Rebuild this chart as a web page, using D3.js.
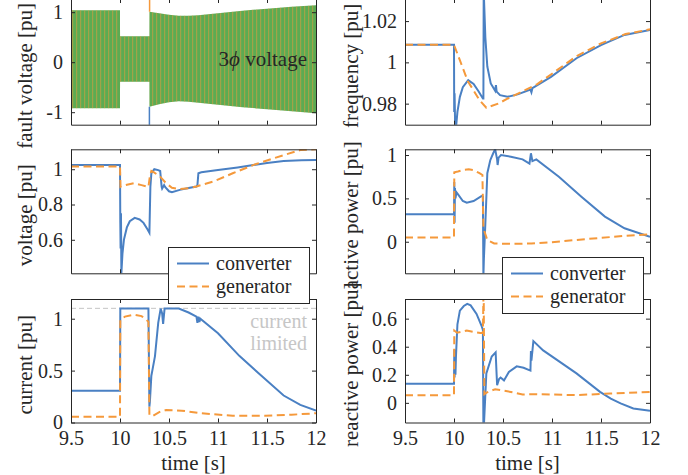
<!DOCTYPE html>
<html>
<head>
<meta charset="utf-8">
<script src="https://cdn.jsdelivr.net/npm/d3@7"></script>
<style>
  body { margin: 0; background: #fff; }
</style>
</head>
<body>
<script>
// ---- data ----
var timeTicks = [9.5, 10, 10.5, 11, 11.5, 12];
var timeTickLabels = ['9.5', '10', '10.5', '11', '11.5', '12'];

// 3 phase fault voltage, drawn as its envelope (pu)
var faultTime  = [9.5, 10.0, 10.0005, 10.3, 10.3005, 10.4, 10.5, 10.6, 10.7, 10.8, 11.0, 11.25, 11.5, 11.75, 12.0];
var faultUpper = [1.04, 1.04, 0.52, 0.52, 1.01, 0.98, 0.95, 0.93, 0.93, 0.94, 0.98, 1.03, 1.07, 1.11, 1.14];
var faultLower = [-0.92, -0.92, -0.39, -0.39, -0.89, -0.84, -0.8, -0.78, -0.79, -0.81, -0.85, -0.9, -0.94, -0.98, -1.02];
// switching spikes at fault clearing [t, from, to]
var faultSpikeA = [10.3, -0.89, -1.4];
var faultSpikeB = [10.302, 1.01, 1.4];

var convFreq = [[9.5,1.0085],[10.0,1.0085],[10.002,0.976],[10.006,0.985],[10.012,0.968],[10.02,0.968],[10.035,0.976],
  [10.06,0.9833],[10.09,0.988],[10.145,0.9914],[10.2,0.9895],[10.25,0.986],[10.295,0.9825],[10.3,0.9825],[10.303,1.035],
  [10.32,1.012],[10.34,0.998],[10.375,0.9898],[10.42,0.9862],[10.428,0.989],[10.435,0.9858],[10.47,0.9841],[10.545,0.9833],
  [10.65,0.9845],[10.78,0.9868],[10.79,0.9855],[10.8,0.9875],[10.99,0.993],[11.25,1.002],[11.5,1.0084],[11.74,1.0133],[12,1.0157]];
var genFreq = [[9.5,1.0085],[10.0,1.0085],[10.14,0.991],[10.26,0.9817],[10.33,0.978],[10.45,0.98],[10.55,0.9825],
  [10.7,0.986],[10.85,0.9895],[11.0,0.9945],[11.25,1.003],[11.5,1.0092],[11.75,1.0137],[12,1.016]];

var convVolt = [[9.5,1.024],[10.0,1.024],[10.003,0.7],[10.006,0.55],[10.01,0.75],[10.014,0.41],[10.025,0.52],[10.04,0.6],
  [10.07,0.67],[10.1,0.705],[10.15,0.724],[10.2,0.715],[10.24,0.696],[10.28,0.66],[10.3,0.64],[10.31,0.9],[10.32,0.977],
  [10.35,1.0],[10.39,0.995],[10.41,0.99],[10.425,0.9],[10.43,0.89],[10.45,0.91],[10.46,0.9],[10.5,0.875],[10.53,0.87],
  [10.61,0.883],[10.7,0.893],[10.78,0.902],[10.79,0.91],[10.8,0.977],[10.83,0.983],[11.0,0.995],[11.2,1.01],[11.36,1.024],
  [11.5,1.035],[11.67,1.047],[11.85,1.051],[12,1.052]];
var genVolt = [[9.5,1.015],[10.0,1.015],[10.005,0.9],[10.02,0.905],[10.14,0.921],[10.22,0.91],[10.29,0.899],[10.305,0.96],
  [10.32,0.99],[10.34,0.985],[10.41,0.958],[10.47,0.921],[10.53,0.895],[10.61,0.887],[10.7,0.892],[10.78,0.902],[10.95,0.93],
  [11.15,0.977],[11.39,1.03],[11.67,1.08],[11.84,1.109],[12,1.113]];

var convP = [[9.5,0.316],[10.0,0.316],[10.003,0.69],[10.006,0.22],[10.01,0.62],[10.015,0.5],[10.025,0.57],[10.045,0.54],
  [10.09,0.47],[10.13,0.45],[10.2,0.47],[10.28,0.527],[10.295,0.52],[10.3,-0.4],[10.305,-0.2],[10.32,0.21],[10.34,0.79],
  [10.37,0.94],[10.4,1.02],[10.42,1.066],[10.44,0.95],[10.445,0.885],[10.455,0.97],[10.48,1.0],[10.58,0.98],[10.7,0.95],
  [10.77,0.9],[10.785,1.02],[10.8,0.93],[10.84,0.95],[11.07,0.75],[11.3,0.52],[11.54,0.29],[11.74,0.155],[12,0.058]];
var genP = [[9.5,0.05],[10.0,0.05],[10.003,0.8],[10.04,0.81],[10.1,0.83],[10.15,0.835],[10.2,0.825],[10.26,0.79],
  [10.29,0.77],[10.3,0.155],[10.34,0.02],[10.41,-0.02],[10.6,-0.025],[10.79,-0.02],[11.0,-0.005],[11.25,0.02],
  [11.5,0.045],[11.75,0.068],[12,0.085]];

var convI = [[9.5,0.305],[10.0,0.305],[10.003,1.098],[10.29,1.098],[10.3,0.153],[10.305,0.2],[10.32,0.45],[10.357,0.64],
  [10.39,0.96],[10.415,1.098],[10.43,1.05],[10.44,0.95],[10.455,1.098],[10.6,1.098],[10.7,1.06],[10.78,1.02],[10.79,0.96],
  [10.8,1.02],[10.81,0.97],[10.82,1.0],[11.0,0.86],[11.22,0.64],[11.42,0.47],[11.67,0.26],[11.84,0.17],[12,0.114]];
var genI = [[9.5,0.056],[10.0,0.056],[10.003,0.99],[10.05,1.02],[10.14,1.04],[10.22,1.025],[10.27,0.99],[10.29,0.97],
  [10.3,0.073],[10.33,0.06],[10.4,0.1],[10.47,0.12],[10.63,0.114],[10.83,0.089],[11.15,0.065],[11.48,0.065],
  [11.75,0.075],[12,0.089]];
var currentLimit = 1.1;

var convQ = [[9.5,0.137],[10.0,0.137],[10.003,0.38],[10.006,0.18],[10.01,0.36],[10.015,0.2],[10.02,0.33],[10.035,0.56],
  [10.06,0.657],[10.1,0.69],[10.135,0.705],[10.17,0.695],[10.23,0.634],[10.28,0.551],[10.295,0.52],[10.3,-0.2],
  [10.306,-0.15],[10.33,0.21],[10.385,0.33],[10.425,0.36],[10.435,0.2],[10.44,0.125],[10.46,0.17],[10.475,0.18],
  [10.51,0.16],[10.56,0.22],[10.64,0.26],[10.71,0.25],[10.78,0.23],[10.785,0.37],[10.79,0.3],[10.81,0.44],[10.91,0.374],
  [11.25,0.21],[11.49,0.078],[11.6,0.03],[11.7,-0.004],[11.83,-0.04],[12,-0.057]];
var genQ = [[9.5,0.055],[10.0,0.055],[10.003,0.515],[10.03,0.5],[10.13,0.515],[10.2,0.505],[10.27,0.497],[10.295,0.497],
  [10.3,0.76],[10.303,0.76],[10.31,0.062],[10.35,0.08],[10.42,0.097],[10.5,0.088],[10.58,0.078],[10.7,0.06],[10.84,0.062],
  [11.25,0.055],[11.6,0.067],[12,0.078]];

var legendNames = ['converter', 'generator'];

// ---- layout ----
var blue = '#4a80c3', orange = '#f5993b', green = '#5cab52', ink = '#262626';
var serif = "'Liberation Serif'";
var colX = [71, 405], colW = 245;
var rowY = [[-1, 124.7], [149.3, 273.3], [299, 422.5]];

var svg = d3.select('body').append('svg').attr('width', 688).attr('height', 475);
var defs = svg.append('defs');

var pat = defs.append('pattern').attr('id', 'stripes').attr('patternUnits', 'userSpaceOnUse')
  .attr('width', 4).attr('height', 10);
pat.append('rect').attr('x', 0).attr('y', 0).attr('width', 1.2).attr('height', 10)
  .attr('fill', orange).attr('opacity', 0.45);

var line = function(x, y) {
  return d3.line().x(function(d) { return x(d[0]); }).y(function(d) { return y(d[1]); });
};

var drawPair = function(g, x, y, a, b) {
  g.append('path').datum(a).attr('d', line(x, y)).attr('fill', 'none')
    .attr('stroke', blue).attr('stroke-width', 2);
  g.append('path').datum(b).attr('d', line(x, y)).attr('fill', 'none')
    .attr('stroke', orange).attr('stroke-width', 2).attr('stroke-dasharray', '8,4.5');
};

// font set on each text element (letter-spacing breaks the font here, so none)
var label = function(sel, size) {
  return sel.style('font-family', serif).attr('font-size', size);
};

var panels = [
  { col: 0, row: 0, domain: [-1.25, 1.264], ticks: [-1, 0, 1], label: 'fault voltage [pu]', labelShift: 14,
    draw: function(g, x, y) {
      var band = d3.area()
        .x(function(d, i) { return x(faultTime[i]); })
        .y0(function(d, i) { return y(faultLower[i]); })
        .y1(function(d) { return y(d); });
      g.append('path').datum(faultUpper).attr('d', band).attr('fill', green);
      g.append('path').datum(faultUpper).attr('d', band).attr('fill', 'url(#stripes)');
      g.append('line').attr('x1', x(faultSpikeA[0])).attr('x2', x(faultSpikeA[0]))
        .attr('y1', y(faultSpikeA[1])).attr('y2', y(faultSpikeA[2])).attr('stroke', blue).attr('stroke-width', 1.5);
      g.append('line').attr('x1', x(faultSpikeB[0])).attr('x2', x(faultSpikeB[0]))
        .attr('y1', y(faultSpikeB[1])).attr('y2', y(faultSpikeB[2])).attr('stroke', orange).attr('stroke-width', 1.5);
    } },
  { col: 1, row: 0, domain: [0.9698, 1.0307], ticks: [0.98, 1, 1.02], label: 'frequency [pu]',
    draw: function(g, x, y) { drawPair(g, x, y, convFreq, genFreq); } },
  { col: 0, row: 1, domain: [0.41, 1.113], ticks: [0.6, 0.8, 1], label: 'voltage [pu]',
    draw: function(g, x, y) { drawPair(g, x, y, convVolt, genVolt); } },
  { col: 1, row: 1, domain: [-0.364, 1.066], ticks: [0, 0.5, 1], label: 'active power [pu]',
    draw: function(g, x, y) { drawPair(g, x, y, convP, genP); } },
  { col: 0, row: 2, domain: [0, 1.19], ticks: [0, 0.5, 1], label: 'current [pu]',
    draw: function(g, x, y) {
      g.append('line').attr('x1', x(9.5)).attr('x2', x(12))
        .attr('y1', y(currentLimit)).attr('y2', y(currentLimit))
        .attr('stroke', '#c4c4c4').attr('stroke-width', 1).attr('stroke-dasharray', '5,3');
      drawPair(g, x, y, convI, genI);
    } },
  { col: 1, row: 2, domain: [-0.14, 0.74], ticks: [0, 0.2, 0.4, 0.6], label: 'reactive power [pu]',
    draw: function(g, x, y) { drawPair(g, x, y, convQ, genQ); } }
];

panels.forEach(function(p, k) {
  var x0 = colX[p.col], x1 = x0 + colW;
  var top = rowY[p.row][0], bottom = rowY[p.row][1];
  var x = d3.scaleLinear().domain([9.5, 12]).range([x0, x1]);
  var y = d3.scaleLinear().domain(p.domain).range([bottom, top]);

  defs.append('clipPath').attr('id', 'clip' + k).append('rect')
    .attr('x', x0).attr('y', top).attr('width', colW).attr('height', bottom - top);
  var plot = svg.append('g').attr('clip-path', 'url(#clip' + k + ')');
  p.draw(plot, x, y);

  var bottomRow = p.row === 2;
  var axes = [
    svg.append('g').attr('transform', 'translate(0,' + bottom + ')')
      .call(d3.axisBottom(x).tickValues(timeTicks).tickSizeInner(-4).tickSizeOuter(0).tickPadding(8)
        .tickFormat(function(d, i) { return bottomRow ? timeTickLabels[i] : ''; })),
    svg.append('g').attr('transform', 'translate(0,' + top + ')')
      .call(d3.axisTop(x).tickValues(timeTicks).tickSizeInner(-4).tickSizeOuter(0).tickFormat('')),
    svg.append('g').attr('transform', 'translate(' + x0 + ',0)')
      .call(d3.axisLeft(y).tickValues(p.ticks).tickSizeInner(-4).tickSizeOuter(0).tickPadding(8)
        .tickFormat(function(d) { return String(d); })),
    svg.append('g').attr('transform', 'translate(' + x1 + ',0)')
      .call(d3.axisRight(y).tickValues(p.ticks).tickSizeInner(-4).tickSizeOuter(0).tickFormat(''))
  ];
  axes.forEach(function(a) {
    a.selectAll('path, line').attr('stroke', ink);
    label(a.selectAll('text'), 20).attr('fill', ink);
  });

  var cy = (top + bottom) / 2 + (p.labelShift || 4);
  label(svg.append('text'), 21)
    .attr('transform', 'translate(' + (p.col === 0 ? 32 : 358) + ',' + cy + ') rotate(-90)')
    .attr('text-anchor', 'middle').attr('fill', ink).text(p.label);

  if (bottomRow) {
    label(svg.append('text'), 21).attr('x', (x0 + x1) / 2).attr('y', 470).attr('text-anchor', 'middle')
      .attr('fill', ink).text('time [s]');
  }
});

// annotations
label(svg.append('text'), 21).attr('x', 307).attr('y', 66).attr('text-anchor', 'end').attr('fill', ink)
  .call(function(t) {
    t.append('tspan').text('3');
    t.append('tspan').style('font-style', 'italic').text('\u03d5');
    t.append('tspan').text(' voltage');
  });
label(svg.append('text'), 20).attr('x', 307).attr('y', 328).attr('text-anchor', 'end')
  .attr('fill', '#c6c6c6').text('current');
label(svg.append('text'), 20).attr('x', 307).attr('y', 350).attr('text-anchor', 'end')
  .attr('fill', '#c6c6c6').text('limited');

// legends
var legendAt = [{ x: 168, y: 247 }, { x: 502, y: 257 }];
legendAt.forEach(function(L) {
  var g = svg.append('g').attr('transform', 'translate(' + L.x + ',' + L.y + ')');
  g.append('rect').attr('x', 0.5).attr('y', 0.5).attr('width', 141).attr('height', 56)
    .attr('fill', '#fff').attr('stroke', ink).attr('stroke-width', 1);
  legendNames.forEach(function(name, i) {
    var ly = 16.5 + i * 23;
    g.append('line').attr('x1', 9).attr('x2', 41).attr('y1', ly).attr('y2', ly)
      .attr('stroke', i === 0 ? blue : orange).attr('stroke-width', 2)
      .attr('stroke-dasharray', i === 0 ? null : '8,4.5');
    label(g.append('text'), 20).attr('x', 48).attr('y', ly + 6).attr('fill', ink).text(name);
  });
});
</script>
</body>
</html>
